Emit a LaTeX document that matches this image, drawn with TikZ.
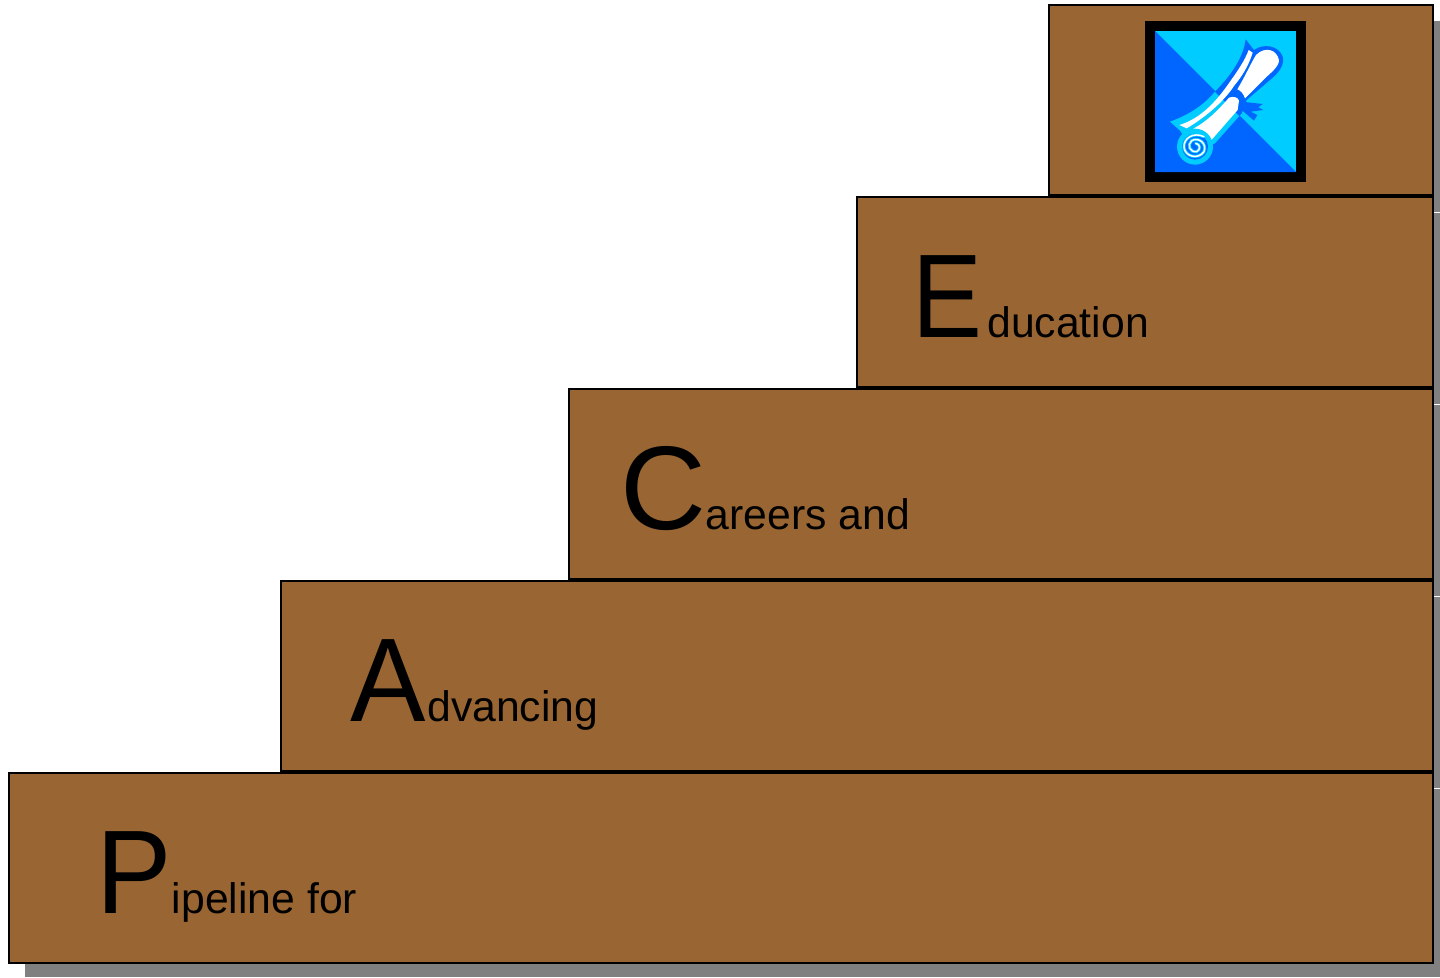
\documentclass[tikz,border=0pt]{standalone}
\usepackage{fontspec}
\setmainfont{Liberation Sans}
\definecolor{stepbrown}{HTML}{996633}
\definecolor{shadowgray}{HTML}{808080}
\definecolor{iconlight}{HTML}{00CCFF}
\definecolor{icondark}{HTML}{0066FF}
\tikzset{
  stepbox/.style={draw=black,fill=stepbrown,line width=2pt},
  shadowbox/.style={fill=shadowgray},
  steplabel/.style={anchor=base west,inner sep=0pt,outer sep=0pt,text=black},
}
% #1 horizontal scale of the initial, #2 kern, #3 initial, #4 rest of the word
\newcommand{\stepword}[4]{{\fontsize{119}{119}\selectfont\scalebox{#1}[1]{#3}}\kern#2pt{\fontsize{42.7}{42.7}\selectfont #4}}
\newcommand{\scrollshape}{
  (120,335) .. controls (190,310) and (230,275) .. (255,245)
  .. controls (290,210) and (340,150) .. (347,88)
  -- (372,120)
  .. controls (400,100) and (445,105) .. (458,140)
  .. controls (465,165) and (445,190) .. (420,210)
  -- (350,270) -- (335,310) -- (255,400)
  -- (195,427) -- (150,362) -- cycle}
\newcommand{\spiralpath}{
  (222,380) .. controls (190,365) and (160,385) .. (162,412)
    .. controls (165,440) and (205,450) .. (222,425)
    .. controls (232,400) and (205,380) .. (185,392)
    .. controls (170,405) and (180,428) .. (200,425)
    .. controls (212,420) and (212,402) .. (197,400)}
\begin{document}
\begin{tikzpicture}[x=1pt,y=-1pt]
\useasboundingbox (0,0) rectangle (1440,977);
\fill[white] (0,0) rectangle (1440,977);
% shadows
\fill[shadowbox] (1434,21) rectangle (1440,212);
\fill[shadowbox] (1434,213) rectangle (1440,404);
\fill[shadowbox] (1434,405) rectangle (1440,596);
\fill[shadowbox] (1434,597) rectangle (1440,788);
\fill[shadowbox] (1434,789) rectangle (1440,977);
\fill[shadowbox] (25,964) rectangle (1440,977);
% steps
\draw[stepbox] (1049,5) rectangle (1433,195);
\draw[stepbox] (857,197) rectangle (1433,387);
\draw[stepbox] (569,389) rectangle (1433,579);
\draw[stepbox] (281,581) rectangle (1433,771);
\draw[stepbox] (9,773) rectangle (1433,963);
% labels
\node[steplabel] (education) at (912,337) {\stepword{0.88}{5.5}{E}{ducation}};
\node[steplabel] (careers) at (620,529) {\stepword{1}{0}{C}{areers and}};
\node[steplabel] (advancing) at (350,721) {\stepword{0.95}{2}{A}{dvancing}};
\node[steplabel] (pipeline) at (96,913) {\stepword{0.95}{0.5}{P}{ipeline for}};
% icon
\fill[black] (1145,21) rectangle (1306,182);
\fill[iconlight] (1155,31) rectangle (1296,172);
\fill[icondark] (1155,31) -- (1296,172) -- (1155,172) -- cycle;
\begin{scope}[shift={(1130,10)},x=0.3333pt,y=-0.3333pt]
  % outline colour swaps across the diagonal
  \begin{scope}
    \clip (75,65) -- (495,485) -- (75,485) -- cycle;
    \fill[iconlight] \scrollshape;
  \end{scope}
  \begin{scope}
    \clip (75,65) -- (495,485) -- (495,65) -- cycle;
    \fill[icondark] \scrollshape;
    \fill[icondark] (335,275) -- (398,282) -- (385,292) -- (400,300) -- (362,305) -- (382,315) -- (372,332) -- (335,300) -- cycle;
  \end{scope}
  % back sheet white
  \fill[white] (148,345) .. controls (215,325) and (262,270) .. (300,215)
    .. controls (325,180) and (345,150) .. (356,120) -- (368,128)
    .. controls (355,170) and (335,200) .. (312,228)
    .. controls (285,270) and (230,320) .. (170,355) -- cycle;
  % upper roll white
  \fill[white] (322,238) .. controls (345,200) and (360,165) .. (378,135)
    .. controls (405,108) and (440,118) .. (447,150)
    .. controls (448,170) and (420,190) .. (405,205)
    .. controls (385,225) and (365,245) .. (345,265)
    .. controls (340,250) and (332,242) .. (322,238) -- cycle;
  % lower roll white
  \fill[white] (297,263) .. controls (310,258) and (325,262) .. (327,272)
    -- (323,300) -- (240,395)
    .. controls (235,380) and (215,362) .. (190,356)
    .. controls (230,335) and (265,300) .. (297,263) -- cycle;
  % roll end with spiral
  \fill[iconlight] (195,410) circle[radius=18pt];
  \fill[icondark] (195,410) circle[radius=13pt];
  \draw[iconlight,line width=3.2pt,line cap=round] \spiralpath;
  \draw[white,line width=1.5pt,line cap=round] \spiralpath;
\end{scope}
\end{tikzpicture}
\end{document}
